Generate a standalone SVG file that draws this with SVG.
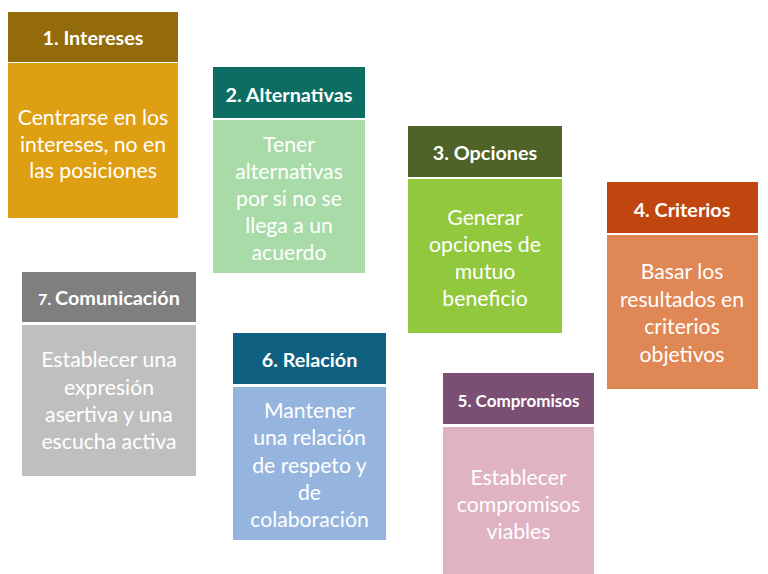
<svg xmlns="http://www.w3.org/2000/svg" width="768" height="574" viewBox="0 0 768 574">
<style>
text{font-family:Lato,"Open Sans","Liberation Sans",sans-serif;fill:#fff;text-anchor:middle}
.h{font-weight:bold;font-size:19.8px}
.b{font-size:21.2px}
</style>
<rect width="768" height="574" fill="#fff"/>
<g id="n1">
<rect x="8" y="12" width="170" height="50" fill="#936B0A"/>
<rect x="8" y="63" width="170" height="155" fill="#DF9F12"/>
<text class="h" x="93" y="44.5">1. Intereses</text>
<text class="b" x="93" y="125">Centrarse en los</text>
<text class="b" x="93" y="152">intereses, no en</text>
<text class="b" x="93" y="178">las posiciones</text>
</g>
<g id="n2">
<rect x="213" y="67" width="152" height="51" fill="#0C6D62"/>
<rect x="213" y="120" width="152" height="153" fill="#A9DBA8"/>
<text class="h" x="289" y="101.5">2. Alternativas</text>
<text class="b" x="289" y="152">Tener</text>
<text class="b" x="289" y="179">alternativas</text>
<text class="b" x="289" y="206">por si no se</text>
<text class="b" x="289" y="233">llega a un</text>
<text class="b" x="289" y="260">acuerdo</text>
</g>
<g id="n3">
<rect x="408" y="126" width="154" height="51" fill="#4F6228"/>
<rect x="408" y="179" width="154" height="154" fill="#92C83E"/>
<text class="h" x="485" y="159.5">3. Opciones</text>
<text class="b" x="485" y="225">Generar</text>
<text class="b" x="485" y="252">opciones de</text>
<text class="b" x="485" y="279">mutuo</text>
<text class="b" x="485" y="306">beneficio</text>
</g>
<g id="n4">
<rect x="607" y="182" width="151" height="51" fill="#C0450E"/>
<rect x="607" y="235" width="151" height="154" fill="#E08855"/>
<text class="h" x="682" y="216.5">4. Criterios</text>
<text class="b" x="682" y="279">Basar los</text>
<text class="b" x="682" y="307">resultados en</text>
<text class="b" x="682" y="334">criterios</text>
<text class="b" x="682" y="362">objetivos</text>
</g>
<g id="n5">
<rect x="443" y="373" width="151" height="51" fill="#7B4F73"/>
<rect x="443" y="427" width="151" height="147" fill="#DFB3C3"/>
<text class="h" x="518.5" y="406.5" style="font-size:17px">5. Compromisos</text>
<text class="b" x="518.5" y="485">Establecer</text>
<text class="b" x="518.5" y="512">compromisos</text>
<text class="b" x="518.5" y="539">viables</text>
</g>
<g id="n6">
<rect x="233" y="333" width="153" height="51" fill="#0F5F80"/>
<rect x="233" y="387" width="153" height="153" fill="#95B5DE"/>
<text class="h" x="309.5" y="366.5">6. Relación</text>
<text class="b" x="309.5" y="418">Mantener</text>
<text class="b" x="309.5" y="445">una relación</text>
<text class="b" x="309.5" y="473">de respeto y</text>
<text class="b" x="309.5" y="500">de</text>
<text class="b" x="309.5" y="527">colaboración</text>
</g>
<g id="n7">
<rect x="22" y="272" width="174" height="50" fill="#7F7F7F"/>
<rect x="22" y="325" width="174" height="151" fill="#BFBFBF"/>
<text class="h" x="109" y="304.5"><tspan style="font-size:16px">7. </tspan>Comunicación</text>
<text class="b" x="109" y="367">Establecer una</text>
<text class="b" x="109" y="395">expresión</text>
<text class="b" x="109" y="422">asertiva y una</text>
<text class="b" x="109" y="449">escucha activa</text>
</g>
<g id="connectors"></g>
</svg>
